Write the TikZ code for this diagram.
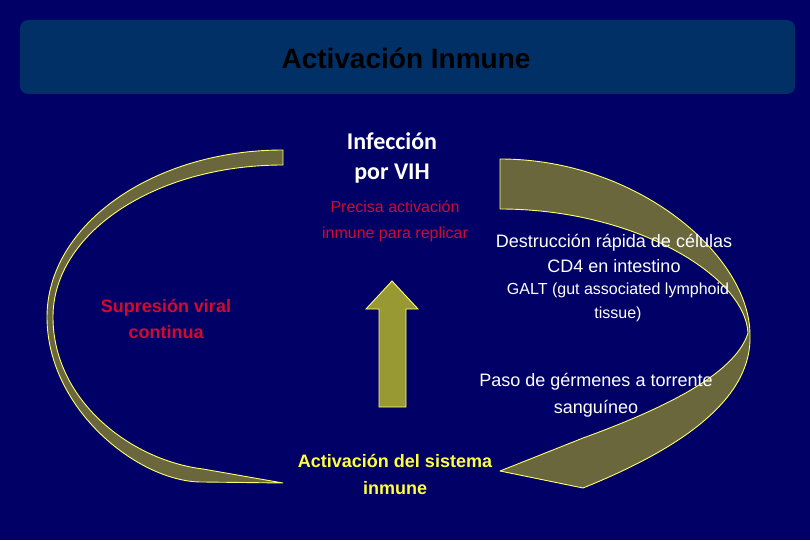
\documentclass[tikz,border=0pt]{standalone}
\usepackage{fontspec}
\setmainfont{Liberation Sans}
\newfontfamily\calib{Carlito}
\definecolor{bg}{RGB}{0,0,102}
\definecolor{titlefill}{RGB}{0,48,102}
\definecolor{bandfill}{RGB}{106,103,60}
\definecolor{arrowfill}{RGB}{153,153,51}
\definecolor{edge}{RGB}{255,255,110}
\definecolor{redtxt}{RGB}{210,10,45}
\definecolor{yeltxt}{RGB}{255,255,60}
\tikzset{
  band/.style={fill=bandfill, draw=edge, line width=0.9pt, line join=round},
  uparr/.style={fill=arrowfill, draw=edge, line width=0.9pt},
  txt/.style={inner sep=0pt, align=center}
}
\begin{document}
\begin{tikzpicture}[x=1pt,y=-1pt]
\fill[bg] (0,0) rectangle (810,540);
\useasboundingbox (0,0) rectangle (810,540);
\fill[titlefill, rounded corners=8pt] (20,20) rectangle (795,94);
\node[txt, font=\fontsize{28}{30}\selectfont\bfseries] (title) at (406,58) {Activación Inmune};

% left curved band
\draw[band] (283,150) .. controls (153,150) and (47,225) .. (47,317)
  .. controls (47,410) and (140,483) .. (203,482) -- (283,483) -- (203,469)
  .. controls (130,460) and (53,400) .. (53,317)
  .. controls (53,233) and (155,165) .. (283,165) -- cycle;

% right curved arrow
\draw[band] (500,159) .. controls (638,159) and (750,256) .. (750,335)
  .. controls (752,395) and (690,445) .. (583,488) -- (500,471) -- (583,438)
  .. controls (660,410) and (735,375) .. (748,333)
  .. controls (745,276) and (635,209) .. (500,209) -- cycle;

% up arrow
\draw[uparr] (392,281) -- (418,309) -- (406,309) -- (406,407) -- (379,407) -- (379,309) -- (366,309) -- cycle;

\node[txt, text=white, font=\fontsize{24}{30}\selectfont\calib\bfseries] (vih) at (392,158) {Infección\\por VIH};
\node[txt, text=redtxt, font=\fontsize{16}{26}\selectfont] (precisa) at (395,221) {Precisa activación\\inmune para replicar};
\node[txt, text=white, font=\fontsize{18}{25}\selectfont] (destr) at (614,253) {Destrucción rápida de células\\CD4 en intestino};
\node[txt, text=white, font=\fontsize{16}{24}\selectfont] (galt) at (618,302) {GALT (gut associated lymphoid\\tissue)};
\node[txt, text=white, font=\fontsize{18}{27}\selectfont] (paso) at (596,395) {Paso de gérmenes a torrente\\sanguíneo};
\node[txt, text=yeltxt, font=\fontsize{18}{27}\selectfont\bfseries] (activ) at (395,474) {Activación del sistema\\inmune};
\node[txt, text=redtxt, font=\fontsize{18}{26}\selectfont\bfseries] (supr) at (166,319) {Supresión viral\\continua};
\end{tikzpicture}
\end{document}
